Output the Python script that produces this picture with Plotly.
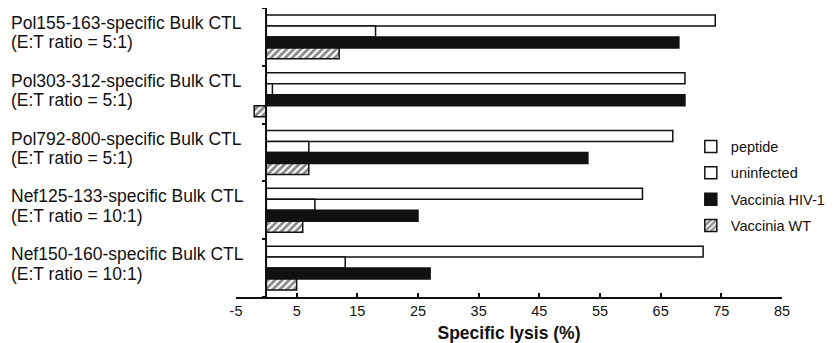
import plotly.graph_objects as go

epitopes = ["Pol155-163-specific Bulk CTL", "Pol303-312-specific Bulk CTL",
            "Pol792-800-specific Bulk CTL", "Nef125-133-specific Bulk CTL",
            "Nef150-160-specific Bulk CTL"]
ratios = ["(E:T ratio = 5:1)", "(E:T ratio = 5:1)", "(E:T ratio = 5:1)",
          "(E:T ratio = 10:1)", "(E:T ratio = 10:1)"]

peptide = [74, 69, 67, 62, 72]
uninfected = [18, 1, 7, 8, 13]
vaccinia_hiv = [68, 69, 53, 25, 27]
vaccinia_wt = [12, -2, 7, 6, 5]

x_ticks = [-5, 5, 15, 25, 35, 45, 55, 65, 75, 85]

FONT = "Liberation Sans, Arial, Helvetica, sans-serif"
INK = "#111111"

fig = go.Figure()
series = [
    ("peptide", peptide, dict(color="white")),
    ("uninfected", uninfected, dict(color="white")),
    ("Vaccinia HIV-1", vaccinia_hiv, dict(color=INK)),
    ("Vaccinia WT", vaccinia_wt, dict(color="white",
                                       pattern=dict(shape="/", fgcolor=INK, bgcolor="white",
                                                    size=5, solidity=0.55))),
]
for i, (name, vals, mk) in enumerate(series):
    fig.add_trace(go.Bar(
        name=name, y=list(range(len(epitopes))), x=vals, orientation="h",
        marker=dict(line=dict(color=INK, width=1.5), **mk),
        legendgroup=f"g{i}",
    ))

for i, (ep, ra) in enumerate(zip(epitopes, ratios)):
    fig.add_annotation(x=-0.415, xref="paper", y=i, yref="y", text=ep, showarrow=False,
                       xanchor="left", yanchor="middle", yshift=14,
                       font=dict(family=FONT, size=17.5, color=INK))
    fig.add_annotation(x=-0.415, xref="paper", y=i, yref="y", text=ra, showarrow=False,
                       xanchor="left", yanchor="middle", yshift=-5.5,
                       font=dict(family=FONT, size=17.5, color=INK))

# the page body adds an 8px offset, so the figure is sized 8px smaller
fig.update_layout(
    width=826, height=335,
    margin=dict(l=228, r=52, t=0, b=46, autoexpand=False),
    paper_bgcolor="white", plot_bgcolor="white",
    barmode="group", bargap=0.24, bargroupgap=0,
    font=dict(family=FONT, color=INK),
    showlegend=True,
    legend=dict(x=0.833, y=0.576, xanchor="left", yanchor="top",
                font=dict(family=FONT, size=14.5, color=INK),
                traceorder="grouped", tracegroupgap=4.5,
                bgcolor="rgba(0,0,0,0)"),
    xaxis=dict(range=[-5, 85], tickvals=x_ticks, ticktext=[str(v) for v in x_ticks],
               automargin=False,
               showline=True, linecolor=INK, linewidth=1.5,
               ticks="inside", ticklen=4, tickwidth=1.5, tickcolor=INK,
               showgrid=False, zeroline=False,
               tickfont=dict(family=FONT, size=14.5, color=INK),
               title=dict(text="<b>Specific lysis (%)</b>", standoff=10,
                          font=dict(family=FONT, size=17.5, color=INK))),
    yaxis=dict(type="linear", range=[4.5, -0.5], anchor="free", position=5/90,
               automargin=False,
               showline=True, linecolor=INK, linewidth=1.5,
               tickvals=[-0.5, 0.5, 1.5, 2.5, 3.5, 4.5], ticks="outside", ticklen=4,
               tickwidth=1.5, tickcolor=INK, showticklabels=False,
               showgrid=False, zeroline=False),
)

fig.write_html("out.html")
